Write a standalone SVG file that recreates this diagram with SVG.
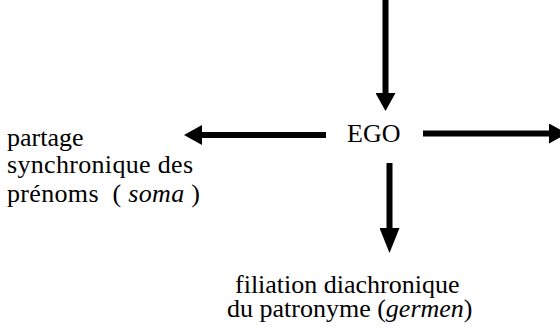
<svg xmlns="http://www.w3.org/2000/svg" width="560" height="333" viewBox="0 0 560 333">
  <style>
    .lbl { font-family: "Liberation Serif", "Times New Roman", serif; font-size: 26px; fill: #000; }
    .arrow { stroke: #000; stroke-width: 6; fill: none; }
  </style>
  <defs>
    <marker id="head" markerUnits="userSpaceOnUse" markerWidth="18" markerHeight="20" refX="0" refY="10" orient="auto" viewBox="0 0 18 20">
      <path d="M0,0 L18,10 L0,20 z" fill="#000"/>
    </marker>
    <marker id="head-long" markerUnits="userSpaceOnUse" markerWidth="25" markerHeight="20" refX="0" refY="10" orient="auto" viewBox="0 0 25 20">
      <path d="M0,0 L25,10 L0,20 z" fill="#000"/>
    </marker>
  </defs>

  <rect width="560" height="333" fill="#fff"/>

  <!-- connectors -->
  <g id="connectors">
    <line class="arrow" x1="385.5" y1="0" x2="385.5" y2="93" marker-end="url(#head)"/>
    <line class="arrow" x1="326" y1="135" x2="202" y2="135" marker-end="url(#head)"/>
    <line class="arrow" x1="423" y1="133.5" x2="549" y2="133.5" marker-end="url(#head)"/>
    <line class="arrow" x1="389.5" y1="163" x2="389.5" y2="228" marker-end="url(#head-long)"/>
  </g>

  <!-- centre node -->
  <g id="ego">
    <text class="lbl" x="347" y="142">EGO</text>
  </g>

  <!-- left: synchronic sharing -->
  <g id="soma">
    <text class="lbl" x="7" y="146">partage</text>
    <text class="lbl" x="7" y="173" textLength="186" lengthAdjust="spacing">synchronique des</text>
    <text class="lbl" x="7" y="201.5" xml:space="preserve" textLength="193" lengthAdjust="spacing">prénoms  ( <tspan font-style="italic">soma</tspan> )</text>
  </g>

  <!-- bottom: diachronic filiation -->
  <g id="germen">
    <text class="lbl" x="235" y="293">filiation diachronique</text>
    <text class="lbl" x="227" y="317">du patronyme (<tspan font-style="italic">germen</tspan>)</text>
  </g>
</svg>
